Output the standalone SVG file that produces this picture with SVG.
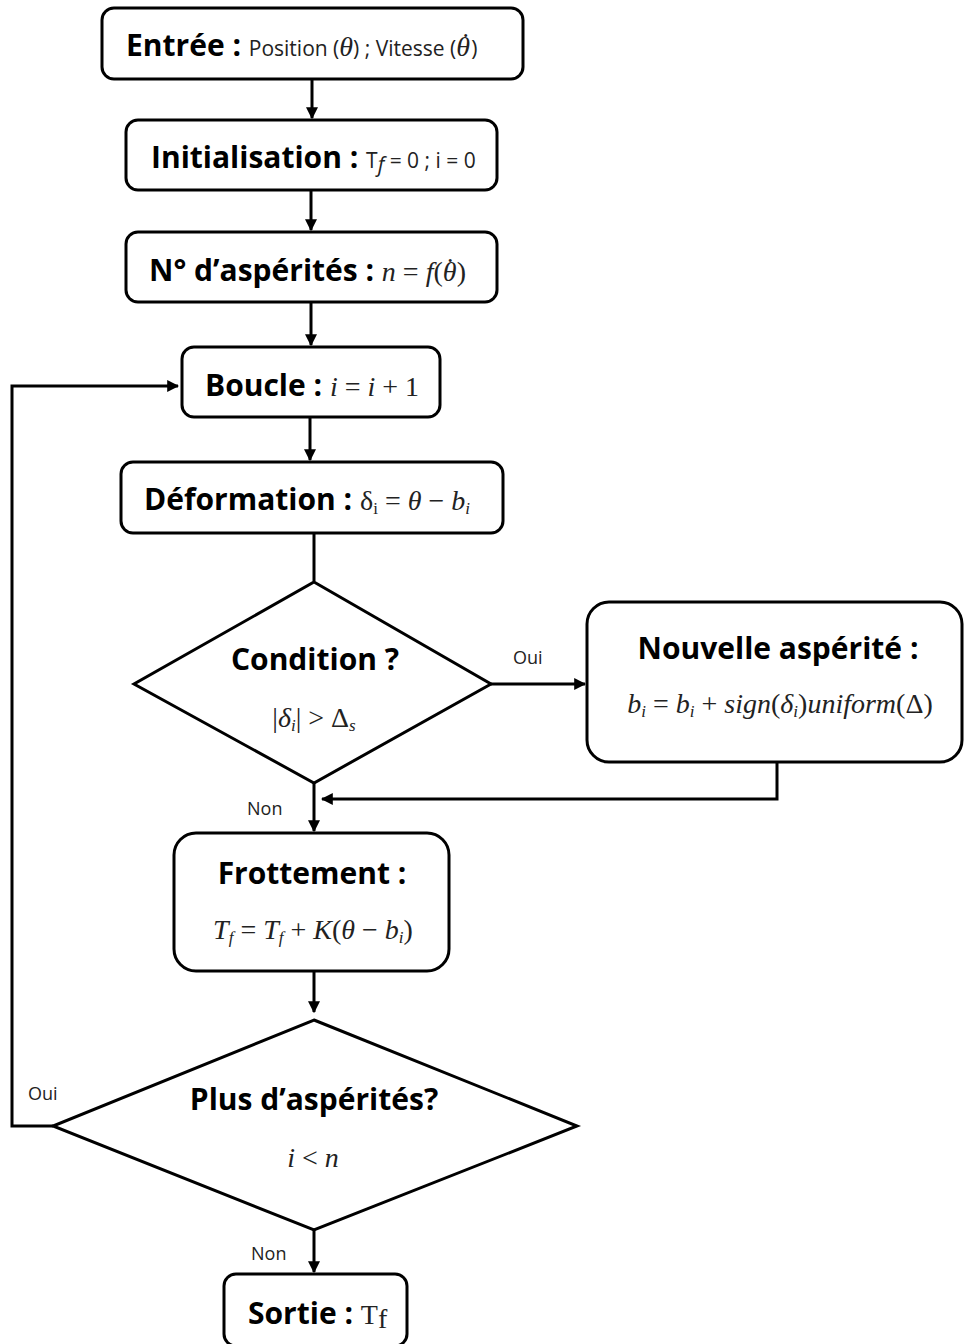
<svg xmlns="http://www.w3.org/2000/svg" width="964" height="1344" viewBox="0 0 964 1344">
<style>
.box{fill:#fff;stroke:#000;stroke-width:3}
.con{fill:none;stroke:#000;stroke-width:3}
.t{font-family:"Open Sans",Lato,"Liberation Sans",sans-serif;font-weight:bold;font-size:30px;fill:#000}
.s{font-family:"Open Sans",Lato,"Liberation Sans",sans-serif;font-size:21px;fill:#222}
.m{font-family:"Liberation Serif","DejaVu Serif",serif;font-style:italic;font-size:28px;fill:#222}
.u{font-style:normal}
.sb{font-size:17px}
.lbl{font-family:"Open Sans",Lato,"Liberation Sans",sans-serif;font-size:18px;fill:#222}
</style>
<defs>
<marker id="ah" viewBox="0 0 10 10" refX="9" refY="5" markerWidth="4" markerHeight="4" orient="auto" markerUnits="strokeWidth">
<path d="M0,0 L10,5 L0,10 z" fill="#000"/>
</marker>
</defs>
<rect width="964" height="1344" fill="#fff"/>
<g id="connectors">
<line class="con" x1="312" y1="79" x2="312" y2="118" marker-end="url(#ah)"/>
<line class="con" x1="311" y1="190" x2="311" y2="230" marker-end="url(#ah)"/>
<line class="con" x1="311" y1="302" x2="311" y2="345" marker-end="url(#ah)"/>
<line class="con" x1="310" y1="417" x2="310" y2="460" marker-end="url(#ah)"/>
<line class="con" x1="314" y1="533" x2="314" y2="581"/>
<line class="con" x1="491" y1="684" x2="585" y2="684" marker-end="url(#ah)"/>
<polyline class="con" points="777,762 777,799 322,799" marker-end="url(#ah)"/>
<line class="con" x1="314" y1="783" x2="314" y2="831" marker-end="url(#ah)"/>
<line class="con" x1="314" y1="971" x2="314" y2="1012" marker-end="url(#ah)"/>
<polyline class="con" points="53,1126 12,1126 12,386 178,386" marker-end="url(#ah)"/>
<line class="con" x1="314" y1="1230" x2="314" y2="1272" marker-end="url(#ah)"/>
<text class="lbl" x="513" y="664">Oui</text>
<text class="lbl" x="247" y="815">Non</text>
<text class="lbl" x="28" y="1100">Oui</text>
<text class="lbl" x="251" y="1260">Non</text>
</g>
<g id="entree">
<rect class="box" x="102" y="8" width="421" height="71" rx="12"/>
<text x="126" y="56"><tspan class="t">Entrée : </tspan><tspan class="s">Position (</tspan><tspan class="m" font-size="23">θ</tspan><tspan class="s">) ; Vitesse (</tspan><tspan class="m" font-size="23">θ</tspan><tspan class="m u" font-size="23" dx="-9" dy="-4">˙</tspan><tspan class="s" dx="1" dy="4">)</tspan></text>
</g>
<g id="init">
<rect class="box" x="126" y="120" width="371" height="70" rx="12"/>
<text x="151" y="168"><tspan class="t">Initialisation : </tspan><tspan class="s">T</tspan><tspan class="s" font-size="14" dy="4" font-style="italic">f</tspan><tspan class="s" dy="-4"> = 0 ; i = 0</tspan></text>
</g>
<g id="naspe">
<rect class="box" x="126" y="232" width="371" height="70" rx="12"/>
<text x="149" y="281"><tspan class="t">N° d’aspérités : </tspan><tspan class="m">n</tspan><tspan class="m u"> = </tspan><tspan class="m">f</tspan><tspan class="m u">(</tspan><tspan class="m">θ</tspan><tspan class="m u" dx="-11" dy="-4">˙</tspan><tspan class="m u" dx="2" dy="4">)</tspan></text>
</g>
<g id="boucle">
<rect class="box" x="182" y="347" width="258" height="70" rx="12"/>
<text x="205" y="396"><tspan class="t">Boucle : </tspan><tspan class="m">i</tspan><tspan class="m u"> = </tspan><tspan class="m">i</tspan><tspan class="m u"> + 1</tspan></text>
</g>
<g id="deformation">
<rect class="box" x="121" y="462" width="382" height="71" rx="12"/>
<text x="144" y="510"><tspan class="t">Déformation : </tspan><tspan class="m u">δ</tspan><tspan class="m u sb" dy="4">i</tspan><tspan class="m u" dy="-4"> =  </tspan><tspan class="m">θ</tspan><tspan class="m u"> − </tspan><tspan class="m">b</tspan><tspan class="m sb" dy="4">i</tspan></text>
</g>
<g id="condition">
<polygon class="box" points="314,582 491,684 314,783 134,684"/>
<text class="t" x="315" y="670" text-anchor="middle">Condition ?</text>
<text x="314" y="727" text-anchor="middle"><tspan class="m u">|</tspan><tspan class="m">δ</tspan><tspan class="m sb" dy="4">i</tspan><tspan class="m u" dy="-4">| &gt; Δ</tspan><tspan class="m sb" dy="4">s</tspan></text>
</g>
<g id="nouvelle">
<rect class="box" x="587" y="602" width="375" height="160" rx="22"/>
<text class="t" x="778" y="659" text-anchor="middle">Nouvelle aspérité :</text>
<text x="780" y="713" text-anchor="middle"><tspan class="m">b</tspan><tspan class="m sb" dy="4">i</tspan><tspan class="m u" dy="-4"> = </tspan><tspan class="m">b</tspan><tspan class="m sb" dy="4">i</tspan><tspan class="m u" dy="-4"> + </tspan><tspan class="m">sign</tspan><tspan class="m u">(</tspan><tspan class="m">δ</tspan><tspan class="m sb" dy="4">i</tspan><tspan class="m u" dy="-4">)</tspan><tspan class="m">uniform</tspan><tspan class="m u">(Δ)</tspan></text>
</g>
<g id="frottement">
<rect class="box" x="174" y="833" width="275" height="138" rx="22"/>
<text class="t" x="312" y="884" text-anchor="middle">Frottement :</text>
<text x="313" y="939" text-anchor="middle"><tspan class="m">T</tspan><tspan class="m sb" dy="4">f</tspan><tspan class="m u" dy="-4"> = </tspan><tspan class="m">T</tspan><tspan class="m sb" dy="4">f</tspan><tspan class="m u" dy="-4"> + </tspan><tspan class="m">K</tspan><tspan class="m u">(</tspan><tspan class="m">θ</tspan><tspan class="m u"> − </tspan><tspan class="m">b</tspan><tspan class="m sb" dy="4">i</tspan><tspan class="m u" dy="-4">)</tspan></text>
</g>
<g id="plus">
<polygon class="box" points="314,1020 577,1126 314,1230 53,1126"/>
<text class="t" x="314" y="1110" text-anchor="middle">Plus d’aspérités?</text>
<text x="313" y="1167" text-anchor="middle"><tspan class="m">i</tspan><tspan class="m u"> &lt; </tspan><tspan class="m">n</tspan></text>
</g>
<g id="sortie">
<rect class="box" x="224" y="1274" width="183" height="72" rx="12"/>
<text x="248" y="1324"><tspan class="t">Sortie : </tspan><tspan class="m u" font-size="23">T</tspan><tspan class="m u" font-size="15" dy="4">f</tspan></text>
</g>
</svg>
